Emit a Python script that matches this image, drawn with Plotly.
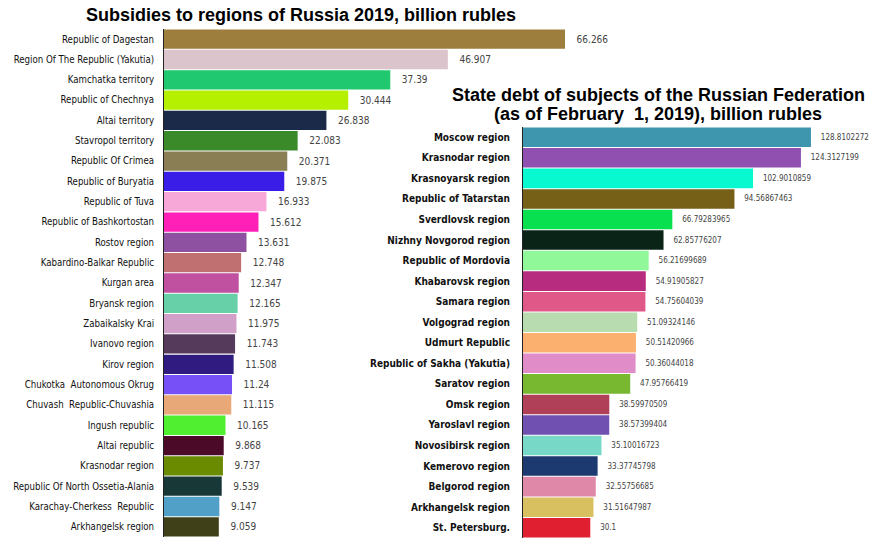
import plotly.graph_objects as go

W, H = 886, 546


def fx(px):
    return px / W


def fy(py):
    return 1 - py / H


# left chart: subsidies
sub_regions = ["Republic of Dagestan", "Region Of The Republic (Yakutia)", "Kamchatka territory",
               "Republic of Chechnya", "Altai territory", "Stavropol territory", "Republic Of Crimea",
               "Republic of Buryatia", "Republic of Tuva", "Republic of Bashkortostan", "Rostov region",
               "Kabardino-Balkar Republic", "Kurgan area", "Bryansk region", "Zabaikalsky Krai",
               "Ivanovo region", "Kirov region", "Chukotka  Autonomous Okrug", "Chuvash  Republic-Chuvashia",
               "Ingush republic", "Altai republic", "Krasnodar region", "Republic Of North Ossetia-Alania",
               "Karachay-Cherkess  Republic", "Arkhangelsk region"]
sub_values = [66.266, 46.907, 37.39, 30.444, 26.838, 22.083, 20.371, 19.875, 16.933, 15.612, 13.631,
              12.748, 12.347, 12.165, 11.975, 11.743, 11.508, 11.24, 11.115, 10.165, 9.868, 9.737,
              9.539, 9.147, 9.059]
sub_colors = ["#9E7E3C", "#DCC4CC", "#20C870", "#B4F000", "#1A2A48", "#3A8A2A", "#8A7E55", "#3A1EE8",
              "#F8A8D8", "#FF20B8", "#8E50A0", "#C07070", "#C050A0", "#68D0A8", "#D0A0C8", "#553A5C",
              "#301C80", "#7850F8", "#E8A878", "#50F030", "#4A0A28", "#6A8A00", "#183838", "#50A0C8",
              "#404018"]

# right chart: state debt
debt_regions = ["Moscow region", "Krasnodar region", "Krasnoyarsk region", "Republic of Tatarstan",
                "Sverdlovsk region", "Nizhny Novgorod region", "Republic of Mordovia", "Khabarovsk region",
                "Samara region", "Volgograd region", "Udmurt Republic", "Republic of Sakha (Yakutia)",
                "Saratov region", "Omsk region", "Yaroslavl region", "Novosibirsk region",
                "Kemerovo region", "Belgorod region", "Arkhangelsk region", "St. Petersburg."]
debt_values = [128.8102272, 124.3127199, 102.9010859, 94.56867463, 66.79283965, 62.85776207,
               56.21699689, 54.91905827, 54.75604039, 51.09324146, 50.51420966, 50.36044018,
               47.95766419, 38.59970509, 38.57399404, 35.10016723, 33.37745798, 32.55756685,
               31.51647987, 30.1]
debt_colors = ["#3E96AE", "#9050B0", "#08F8D0", "#766018", "#08E050", "#0A2418", "#90F898", "#B82C80",
               "#E05888", "#B8DCB0", "#FCB070", "#E08CC8", "#78B830", "#B04058", "#7050B0", "#78D8C8",
               "#1C3A70", "#E088A8", "#D8C060", "#E02030"]

narrow = "DejaVu Sans Condensed, Liberation Sans Narrow, Arial Narrow, sans-serif"
heavy = "Liberation Sans, Arial, sans-serif"

fig = go.Figure()
fig.add_trace(go.Bar(
    y=sub_regions, x=sub_values, orientation="h", marker=dict(color=sub_colors, line=dict(width=0)),
    text=["   " + str(v) for v in sub_values], textposition="outside", cliponaxis=False,
    textfont=dict(family=narrow, size=10, color="#444"), xaxis="x", yaxis="y"))
fig.add_trace(go.Bar(
    y=debt_regions, x=debt_values, orientation="h", marker=dict(color=debt_colors, line=dict(width=0)),
    text=["   " + str(v) for v in debt_values], textposition="outside", cliponaxis=False,
    textfont=dict(family=narrow, size=8, color="#444"), xaxis="x2", yaxis="y2"))

fig.update_layout(
    width=W, height=H, margin=dict(l=0, r=0, t=0, b=0),
    paper_bgcolor="white", plot_bgcolor="white", showlegend=False, bargap=0.05,
    xaxis=dict(domain=[fx(164), fx(587.6)], range=[0, 70], visible=False, automargin=False),
    yaxis=dict(domain=[fy(537), fy(29)], autorange="reversed", showline=True,
               linecolor="#222", linewidth=1, ticks="", ticklabelstandoff=7, automargin=False,
               tickfont=dict(family=narrow, size=9.6, color="#111")),
    xaxis2=dict(domain=[fx(523), fx(836)], range=[0, 140], visible=False, anchor="y2", automargin=False),
    yaxis2=dict(domain=[fy(538), fy(127)], autorange="reversed", showline=True,
                linecolor="#222", linewidth=1, ticks="", ticklabelstandoff=10, anchor="x2",
                automargin=False,
                tickfont=dict(family=narrow, size=10, color="#111", weight="bold")),
    annotations=[
        dict(text="<b>Subsidies to regions of Russia 2019, billion rubles</b>", x=fx(301), y=fy(15),
             xref="paper", yref="paper", showarrow=False, xanchor="center", yanchor="middle",
             font=dict(family=heavy, size=18, color="black")),
        dict(text="<b>State debt of subjects of the Russian Federation</b>",
             x=fx(658), y=fy(95), xref="paper", yref="paper", showarrow=False,
             xanchor="center", yanchor="middle",
             font=dict(family=heavy, size=18, color="black")),
        dict(text="<b>(as of February  1, 2019), billion rubles</b>",
             x=fx(658), y=fy(114), xref="paper", yref="paper", showarrow=False,
             xanchor="center", yanchor="middle",
             font=dict(family=heavy, size=18, color="black")),
    ],
)

# drop the browser's default 8px body margin so the figure sits at the page corner
fig.write_html("out.html", config={"displayModeBar": False},
               post_script="document.body.style.margin='0';")
